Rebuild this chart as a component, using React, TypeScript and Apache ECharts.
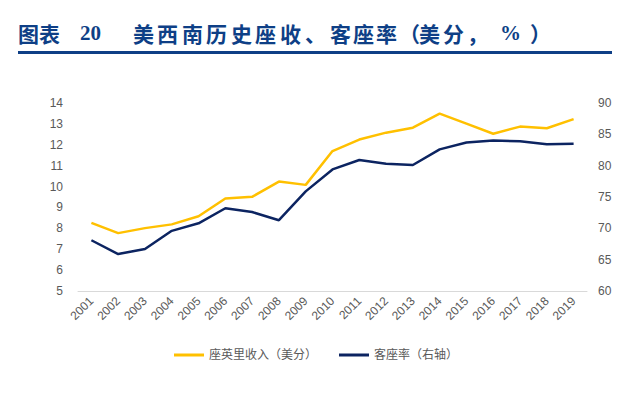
import React, { useEffect, useRef } from "react";
import * as echarts from "echarts";

const years = ["2001","2002","2003","2004","2005","2006","2007","2008","2009","2010","2011","2012","2013","2014","2015","2016","2017","2018","2019"];
const seatRevenue = [8.26, 7.77, 8.01, 8.19, 8.58, 9.43, 9.51, 10.24, 10.08, 11.70, 12.25, 12.58, 12.82, 13.49, 13.01, 12.53, 12.87, 12.79, 13.23];
const loadFactor = [68.1, 65.9, 66.7, 69.6, 70.8, 73.2, 72.6, 71.3, 75.9, 79.4, 80.9, 80.3, 80.1, 82.6, 83.7, 84.0, 83.9, 83.4, 83.5];
const seriesNames = ["座英里收入（美分）", "客座率（右轴）"];
const titleChars = ["美","西","南","历","史","座","收","、","客","座","率","（","美","分","，","%","）"];
const titleCharX = [133, 157, 182, 206, 231, 255, 280, 305, 330, 353, 376, 399, 419, 443, 467, 500, 530];

const titleColor = "#0E3F86";
const labelColor = "#595959";
const fontCJK = "'Liberation Sans', 'Noto Sans CJK SC', sans-serif";

export default function App() {
  const ref = useRef<HTMLDivElement>(null);
  useEffect(() => {
    const chart = echarts.init(ref.current!, null, { renderer: "svg" });
    const titleEls = titleChars.map((c, i) => ({
      type: "text",
      x: titleCharX[i],
      y: 33,
      style: {
        text: c,
        fontSize: 21,
        fontWeight: "bold",
        fill: titleColor,
        verticalAlign: "middle",
        fontFamily: c === "%" ? "'Liberation Serif', serif" : "'Noto Sans CJK SC', sans-serif",
      },
    }));
    chart.setOption({
      animation: false,
      backgroundColor: "#ffffff",
      graphic: [
        { type: "text", x: 18, y: 33, style: { text: "图表", fontSize: 21, fontWeight: "bold", fill: titleColor, verticalAlign: "middle", fontFamily: "'Noto Sans CJK SC', sans-serif" } },
        { type: "text", x: 80, y: 33, style: { text: "20", fontSize: 21, fontWeight: "bold", fill: titleColor, verticalAlign: "middle", fontFamily: "'Liberation Serif', serif" } },
        ...titleEls,
        { type: "rect", shape: { x: 18, y: 51, width: 594, height: 3 }, style: { fill: titleColor } },
      ],
      grid: { left: 78, right: 45, top: 103, bottom: 108 },
      legend: {
        bottom: 33,
        left: "center",
        icon: "rect",
        itemWidth: 30,
        itemHeight: 3,
        itemGap: 22,
        textStyle: { color: labelColor, fontSize: 12, fontFamily: fontCJK },
        data: seriesNames,
      },
      xAxis: {
        type: "category",
        data: years,
        boundaryGap: true,
        axisLine: { lineStyle: { color: "#D9D9D9", width: 1 } },
        axisTick: { show: false },
        axisLabel: { rotate: 45, color: labelColor, fontSize: 12, margin: 8, interval: 0, fontFamily: "'Liberation Sans', sans-serif" },
      },
      yAxis: [
        {
          type: "value", min: 5, max: 14, interval: 1,
          axisLine: { show: false }, axisTick: { show: false }, splitLine: { show: false },
          axisLabel: { color: labelColor, fontSize: 12, margin: 15, fontFamily: "'Liberation Sans', sans-serif" },
        },
        {
          type: "value", min: 60, max: 90, interval: 5,
          axisLine: { show: false }, axisTick: { show: false }, splitLine: { show: false },
          axisLabel: { color: labelColor, fontSize: 12, margin: 11, fontFamily: "'Liberation Sans', sans-serif" },
        },
      ],
      series: [
        {
          name: seriesNames[0], type: "line", data: seatRevenue, yAxisIndex: 0,
          showSymbol: false, symbol: "none", lineStyle: { color: "#FFC000", width: 2.5 }, itemStyle: { color: "#FFC000" },
        },
        {
          name: seriesNames[1], type: "line", data: loadFactor, yAxisIndex: 1,
          showSymbol: false, symbol: "none", lineStyle: { color: "#0C2461", width: 2.5 }, itemStyle: { color: "#0C2461" },
        },
      ],
    });
    return () => chart.dispose();
  }, []);
  return <div ref={ref} style={{ width: 632, height: 399, position: "absolute", left: 0, top: 0 }} />;
}
